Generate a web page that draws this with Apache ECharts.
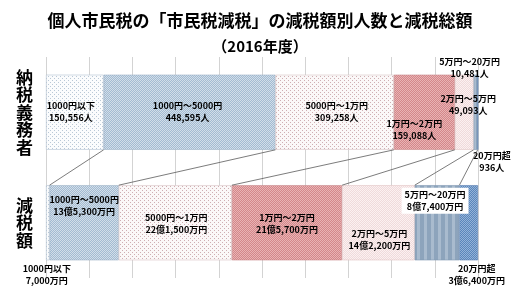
<!DOCTYPE html>
<html><head><meta charset="utf-8">
<script src="https://cdn.jsdelivr.net/npm/echarts@6/dist/echarts.min.js"></script>
<style>html,body{margin:0;padding:0;background:#fff}#c{width:520px;height:296px}</style>
</head><body><div id="c"></div>
<script>
// ---- data ----
const rows = ['納税義務者', '減税額'];
const brackets = ['1000円以下', '1000円～5000円', '5000円～1万円', '1万円～2万円', '2万円～5万円', '5万円～20万円', '20万円超'];
const taxpayers = [150556, 448595, 309258, 159088, 49093, 10481, 936];      // 人
const reductionMan = [7000, 135300, 221500, 215700, 142200, 87400, 36400];  // 万円
const xTicks = [0, 10, 20, 30, 40, 50, 60, 70, 80, 90, 100];

// ---- label placement (style, not data) ----
const labelTop = [[-4, -1], [-2, -1], [2, -1], [-10, 17], [4, -8], [-6, -45], [14, 49]];
const labelBottom = [[-1, 52], [0, -17], [1, 1], [0, 1], [1, 17], [-2, -22], [8, 52]];

const FONT = '"Noto Sans CJK JP", "Noto Sans", sans-serif';

function pat(w, h, draw) {
  const c = document.createElement('canvas'); c.width = w; c.height = h;
  const g = c.getContext('2d'); draw(g, w, h);
  return { image: c, repeat: 'repeat' };
}
function dots(bg, fg, step) {
  return pat(step * 2, step * 2, (g) => {
    g.fillStyle = bg; g.fillRect(0, 0, step * 2, step * 2);
    g.fillStyle = fg; g.fillRect(0, 0, 1, 1); g.fillRect(step, step, 1, 1);
  });
}
function checker(a, b) {
  return pat(2, 2, (g) => {
    g.fillStyle = a; g.fillRect(0, 0, 2, 2);
    g.fillStyle = b; g.fillRect(0, 0, 1, 1); g.fillRect(1, 1, 1, 1);
  });
}
function stripes(a, b, wa, wb) {
  return pat(wa + wb, 2, (g) => {
    g.fillStyle = a; g.fillRect(0, 0, wa, 2);
    g.fillStyle = b; g.fillRect(wa, 0, wb, 2);
  });
}
const fills = [
  dots('#fbfcfd', '#b9c8d6', 2),
  checker('#a3bbd2', '#d2dee9'),
  dots('#fbf8f8', '#cfaeb2', 2),
  checker('#d3878a', '#e9b3b4'),
  checker('#f0dadb', '#fbf1f1'),
  stripes('#8da4bc', '#a9bbce', 4, 3),
  checker('#5a86bb', '#94b3d8')
];
const borders = ['#b3c3d3', '#9fb3c7', '#d9c4c6', '#c98a8c', '#e0c4c5', '#8198b1', '#5a80b0'];

const totTop = taxpayers.reduce((a, b) => a + b, 0);
const totBot = reductionMan.reduce((a, b) => a + b, 0);
const pctTop = taxpayers.map(v => v / totTop * 100);
const pctBot = reductionMan.map(v => v / totBot * 100);

function fmtPeople(v) { return v.toLocaleString('en-US') + '人'; }
function fmtMan(v) {
  const oku = Math.floor(v / 10000), man = v % 10000;
  return (oku ? oku + '億' : '') + man.toLocaleString('en-US') + '万円';
}

const labelBase = { show: true, position: 'inside', color: '#000', fontSize: 9, fontWeight: 'bold', lineHeight: 12, fontFamily: FONT };

const series = brackets.map((name, i) => ({
  type: 'bar', name, stack: 'total', barWidth: '68%',
  itemStyle: { color: fills[i], borderColor: borders[i], borderWidth: 0.6 },
  data: [
    { value: pctTop[i], label: Object.assign({}, labelBase, { offset: labelTop[i], formatter: () => name + '\n' + fmtPeople(taxpayers[i]) }) },
    { value: pctBot[i], label: Object.assign({}, labelBase, { offset: labelBottom[i], formatter: () => name + '\n' + fmtMan(reductionMan[i]) },
        i === 5 ? { backgroundColor: '#fff', padding: [1, 3] } : {}) }
  ]
}));

// connector lines between segment boundaries
const conn = [];
let cT = 0, cB = 0;
for (let i = 0; i < brackets.length - 1; i++) {
  cT += pctTop[i]; cB += pctBot[i];
  conn.push([cT, 0, cB]);
}
series.push({
  type: 'custom', silent: true, z: 10,
  encode: { x: [0, 2], y: 1 },
  data: conn,
  renderItem: (params, api) => {
    const p1 = api.coord([api.value(0), 0]);
    const p2 = api.coord([api.value(2), 1]);
    const band = api.size([0, 1])[1];
    const half = band * 0.34;
    return { type: 'line', shape: { x1: p1[0], y1: p1[1] + half, x2: p2[0], y2: p2[1] - half },
      style: { stroke: '#5a5a5a', lineWidth: 0.8 } };
  }
});

const chart = echarts.init(document.getElementById('c'), null, { renderer: 'canvas' });
chart.setOption({
  animation: false,
  backgroundColor: '#fff',
  title: [
    { text: '個人市民税の「市民税減税」の減税額別人数と減税総額', left: 'center', top: 12, padding: 0,
      textStyle: { fontSize: 17, fontWeight: 'bold', color: '#000', fontFamily: FONT } },
    { text: '（2016年度）', left: 'center', top: 39, padding: 0,
      textStyle: { fontSize: 15, fontWeight: 'bold', color: '#000', fontFamily: FONT } }
  ],
  grid: { left: 46, right: 42, top: 57, bottom: 18, containLabel: false },
  xAxis: {
    type: 'value', min: xTicks[0], max: xTicks[xTicks.length - 1], interval: xTicks[1] - xTicks[0],
    axisLabel: { show: false }, axisLine: { show: false }, axisTick: { show: false },
    splitLine: { show: true, lineStyle: { color: '#d3d3d3', width: 1 } }
  },
  yAxis: {
    type: 'category', data: rows, inverse: true,
    axisLine: { show: false }, axisTick: { show: false }, splitLine: { show: false },
    axisLabel: { formatter: v => v.split('').join('\n'), fontSize: 17, fontWeight: 'bold', lineHeight: 17.5,
      color: '#000', margin: 13, fontFamily: FONT }
  },
  series
});
</script></body></html>
